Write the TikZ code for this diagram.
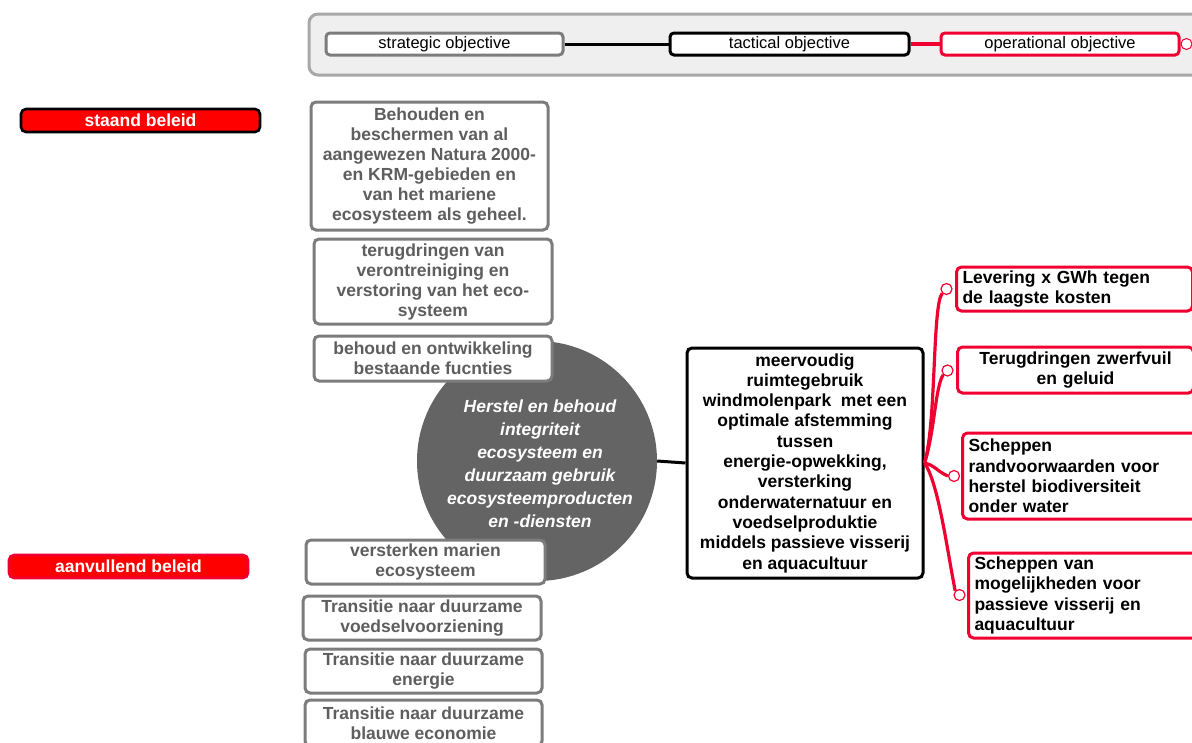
\documentclass[tikz,border=0pt]{standalone}
\usepackage{fontspec}
\setmainfont{Liberation Sans}
\definecolor{panelfill}{HTML}{EFEFEF}
\definecolor{panelline}{HTML}{A8A8A8}
\definecolor{boxgray}{HTML}{7C7C7C}
\definecolor{textgray}{HTML}{5E5E5E}
\definecolor{discfill}{HTML}{646464}
\definecolor{myred}{RGB}{240,0,48}
\definecolor{fillred}{RGB}{255,0,0}
\begin{document}
\begin{tikzpicture}[x=1pt,y=-1pt]
\tikzset{
  base/.style={rounded corners=5pt, inner sep=0pt, align=center,
    font=\fontsize{17.5}{20}\selectfont\bfseries},
  graybox/.style={base, draw=boxgray, line width=3pt, fill=white, text=textgray},
  keybox/.style={rounded corners=4pt, inner sep=0pt, line width=3pt, fill=white,
    minimum height=22pt, font=\fontsize{16.5}{18}\selectfont},
  policy/.style={rounded corners=5pt, inner sep=0pt, fill=fillred, text=white,
    minimum width=239pt, minimum height=23pt, line width=2.6pt,
    font=\fontsize{17.5}{18}\selectfont\bfseries},
  opbox/.style={base, draw=myred, line width=3pt, fill=white, text=black,
    inner xsep=6pt, text width=224pt, anchor=west},
  dot/.style={circle, draw=myred, fill=white, line width=1.2pt,
    minimum size=11pt, inner sep=0pt},
  redline/.style={draw=myred, line width=3.2pt},
}
\useasboundingbox (0,0) rectangle (1192,742);

% legend panel
\draw[panelline, fill=panelfill, line width=3pt, rounded corners=9pt]
  (309,14) rectangle (1215,75);
\node[keybox, draw=boxgray, minimum width=237pt] (strat) at (444.5,44) {strategic objective};
\node[keybox, draw=black, minimum width=239pt] (tact) at (789.5,44) {tactical objective};
\node[keybox, draw=myred, minimum width=238pt] (oper) at (1060,44) {operational objective};
\node[dot, anchor=west, line width=1pt, minimum size=11pt] (operdot) at (oper.east) {};
\draw[black, line width=3pt] (strat.east) -- (tact.west);
\draw[redline] (tact.east) -- (oper.west);

% policy labels
\node[policy, draw=black] (staand) at (140.5,120.5) {staand beleid};
\node[policy, draw=myred] (aanvul) at (128.5,566.5) {aanvullend beleid};

% strategic objective disc
\node[circle, fill=discfill, minimum size=240pt, inner sep=0pt] (disc) at (537,461) {};
\node[align=center, text=white, font=\fontsize{17.5}{23}\selectfont\bfseries\itshape]
  (disctext) at (540,464)
  {Herstel en behoud\\integriteit\\ecosysteem en\\duurzaam gebruik\\ecosysteemproducten\\en -diensten};

% tactical objectives
\node[graybox, minimum width=237pt, minimum height=128pt] (g1) at (429.5,166)
  {Behouden en\\beschermen van al\\aangewezen Natura 2000-\\en KRM-gebieden en\\van het mariene\\ecosysteem als geheel.};
\node[graybox, minimum width=238pt, minimum height=85pt] (g2) at (433,281.5)
  {terugdringen van\\verontreiniging en\\verstoring van het eco-\\systeem};
\node[graybox, minimum width=238pt, minimum height=45pt] (g3) at (433,358.5)
  {behoud en ontwikkeling\\bestaande fucnties};
\node[graybox, minimum width=239pt, minimum height=44pt] (g4) at (425.5,562)
  {versterken marien\\ecosysteem};
\node[graybox, minimum width=238pt, minimum height=44pt] (g5) at (422,618)
  {Transitie naar duurzame\\voedselvoorziening};
\node[graybox, minimum width=237pt, minimum height=44pt] (g6) at (423.5,671)
  {Transitie naar duurzame\\energie};
\node[graybox, minimum width=237pt, minimum height=46pt] (g7) at (423.5,723)
  {Transitie naar duurzame\\blauwe economie};

% central objective
\node[base, draw=black, line width=3pt, fill=white, minimum width=236pt,
  minimum height=230pt, font=\fontsize{17.5}{20.3}\selectfont\bfseries] (central) at (805,463)
  {meervoudig\\ruimtegebruik\\windmolenpark\ \ met een\\optimale afstemming\\tussen\\energie-opwekking,\\versterking\\onderwaternatuur en\\voedselproduktie\\middels passieve visserij\\en aquacultuur};
\draw[black, line width=3pt] (disc.east) -- (central.west);

% operational objectives
\node[opbox, align=left, minimum height=44pt] (o1) at (955,289)
  {Levering x GWh tegen\\de laagste kosten};
\node[opbox, align=center, minimum height=46pt] (o2) at (956,370)
  {Terugdringen zwerfvuil\\en geluid};
\node[opbox, align=left, minimum height=86pt, font=\fontsize{17.5}{20.3}\selectfont\bfseries] (o3) at (961,476)
  {Scheppen\\randvoorwaarden voor\\herstel biodiversiteit\\onder water};
\node[opbox, align=left, minimum height=85pt, font=\fontsize{17.5}{20.3}\selectfont\bfseries] (o4) at (967,595.5)
  {Scheppen van\\mogelijkheden voor\\passieve visserij en\\aquacultuur};

\node[dot] (d1) at (946.5,289) {};
\node[dot] (d2) at (947.5,370.5) {};
\node[dot] (d3) at (954,476) {};
\node[dot] (d4) at (959.5,595) {};

\draw[redline] (central.east) .. controls +(12,-40) and +(-10,12) .. (d1.south west);
\draw[redline] (central.east) .. controls +(10,-30) and +(-8,12) .. (d2.south west);
\draw[redline] (central.east) .. controls +(10,2) and +(-10,-4) .. (d3.west);
\draw[redline] (central.east) .. controls +(14,20) and +(-8,-40) .. (d4.north west);
\end{tikzpicture}
\end{document}
